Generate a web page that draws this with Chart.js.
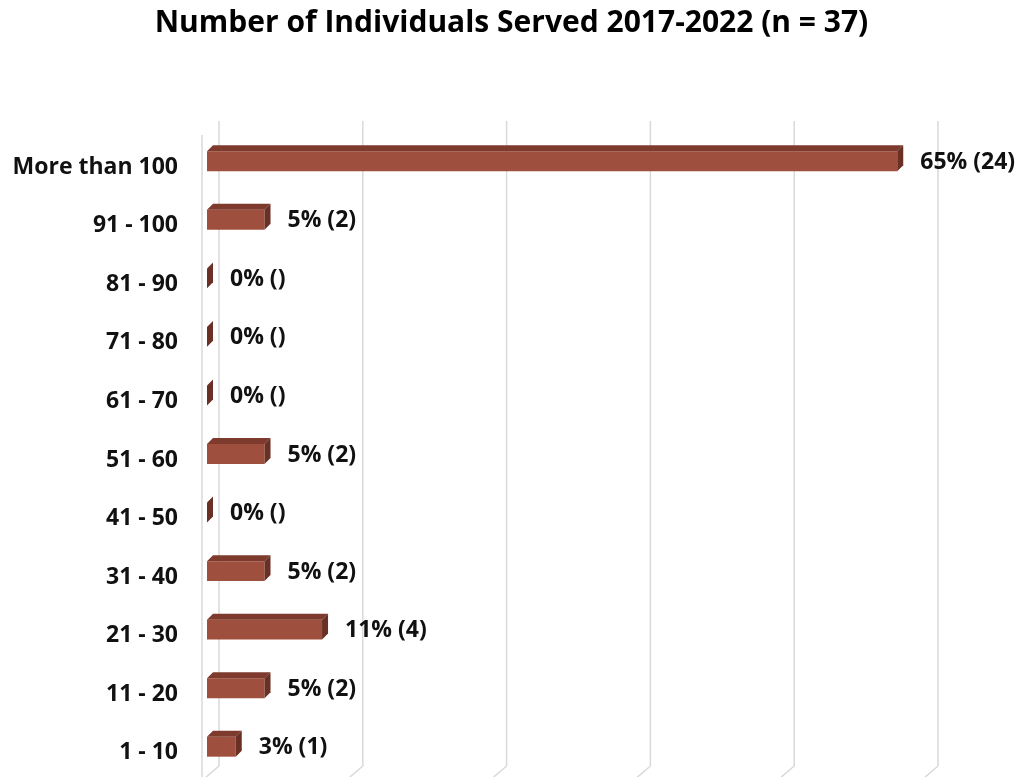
<!DOCTYPE html>
<html>
<head>
<meta charset="utf-8">
<script src="https://cdn.jsdelivr.net/npm/chart.js@4/dist/chart.umd.min.js"></script>
<style>
  html, body { margin: 0; padding: 0; background: #ffffff; }
  #wrap { width: 1023px; height: 777px; position: relative; }
</style>
</head>
<body>
<div id="wrap"><canvas id="chart"></canvas></div>
<script>
// Individuals served per range, 2017-2022
const categories = ['More than 100', '91 - 100', '81 - 90', '71 - 80', '61 - 70', '51 - 60', '41 - 50', '31 - 40', '21 - 30', '11 - 20', '1 - 10'];
const counts = [24, 2, 0, 0, 0, 2, 0, 2, 4, 2, 1];
const totalRespondents = 37;
const axisTicks = [0, 5, 10, 15, 20, 25];

const FONT = '"Open Sans", Lato, sans-serif';
const FRONT = '#9f4f3e';
const TOP = '#7d3a2d';
const SIDE = '#6a3025';
const DEPTH = 6;      // bar extrusion
const WALL = 12;      // back wall offset

function valueLabel(c) {
  const pct = Math.round(c / totalRespondents * 100);
  return pct + '% (' + (c > 0 ? c : '') + ')';
}

// Back-wall gridlines with a short floor segment, plus the side wall edge,
// then the extruded faces of each bar and its value label
const wallGrid = {
  id: 'wallGrid',
  afterLayout(chart) {
    // centre the title across the whole canvas, not just the padded area
    if (chart.titleBlock) {
      chart.titleBlock.left = 0;
      chart.titleBlock.right = chart.width;
      chart.titleBlock.width = chart.width;
    }
  },
  beforeDatasetsDraw(chart) {
    const { ctx, chartArea, scales } = chart;
    const xs = scales.x;
    ctx.save();
    ctx.strokeStyle = '#d9d9d9';
    ctx.lineWidth = 1.5;
    const topY = chartArea.top - 11;
    const floorY = chartArea.bottom - 10;
    axisTicks.forEach(v => {
      const px = xs.getPixelForValue(v) + WALL;
      ctx.beginPath();
      ctx.moveTo(px, topY);
      ctx.lineTo(px, floorY);
      ctx.lineTo(px - WALL - 2, floorY + 12);
      ctx.stroke();
    });
    const x0 = xs.getPixelForValue(0) - 5;
    ctx.beginPath();
    ctx.moveTo(x0, chartArea.top + 3);
    ctx.lineTo(x0, chart.height);
    ctx.stroke();
    ctx.restore();
  },
  afterDatasetsDraw(chart) {
    const { ctx } = chart;
    const meta = chart.getDatasetMeta(0);
    ctx.save();
    meta.data.forEach((bar, i) => {
      const p = bar.getProps(['x', 'y', 'base', 'height'], true);
      const top = p.y - p.height / 2;
      const bottom = p.y + p.height / 2;
      const d = DEPTH;
      ctx.fillStyle = TOP;
      ctx.beginPath();
      ctx.moveTo(p.base, top);
      ctx.lineTo(p.base + d, top - d);
      ctx.lineTo(p.x + d, top - d);
      ctx.lineTo(p.x, top);
      ctx.closePath();
      ctx.fill();
      ctx.fillStyle = SIDE;
      ctx.beginPath();
      ctx.moveTo(p.x, top);
      ctx.lineTo(p.x + d, top - d);
      ctx.lineTo(p.x + d, bottom - d);
      ctx.lineTo(p.x, bottom);
      ctx.closePath();
      ctx.fill();
      ctx.fillStyle = '#111111';
      ctx.font = 'bold 23px ' + FONT;
      ctx.textAlign = 'left';
      ctx.textBaseline = 'middle';
      ctx.fillText(valueLabel(counts[i]), p.x + 23, p.y + 1);
    });
    ctx.restore();
  }
};

new Chart(document.getElementById('chart'), {
  type: 'bar',
  data: {
    labels: categories,
    datasets: [{
      data: counts,
      backgroundColor: FRONT,
      borderWidth: 0,
      categoryPercentage: 1,
      barPercentage: 0.34
    }]
  },
  options: {
    indexAxis: 'y',
    responsive: true,
    maintainAspectRatio: false,
    animation: false,
    layout: { padding: { top: 0, right: 97, bottom: 1, left: 0 } },
    plugins: {
      legend: { display: false },
      tooltip: { enabled: false },
      title: {
        display: true,
        text: 'Number of Individuals Served 2017-2022 (n = 37)',
        color: '#000000',
        font: { family: FONT, size: 30, weight: 'bold', lineHeight: 1.2 },
        padding: { top: 5, bottom: 91 }
      }
    },
    scales: {
      x: {
        display: false,
        min: 0,
        max: 25,
        ticks: { stepSize: 5 }
      },
      y: {
        grid: { display: false, drawTicks: false },
        border: { display: false },
        ticks: {
          color: '#111111',
          padding: 29,
          labelOffset: 6,
          font: { family: FONT, size: 23, weight: 'bold' }
        },
        afterFit(scale) {
          scale.width = 207;
          scale.paddingTop = 0;
          scale.paddingBottom = 0;
        }
      }
    }
  },
  plugins: [wallGrid]
});
</script>
</body>
</html>
